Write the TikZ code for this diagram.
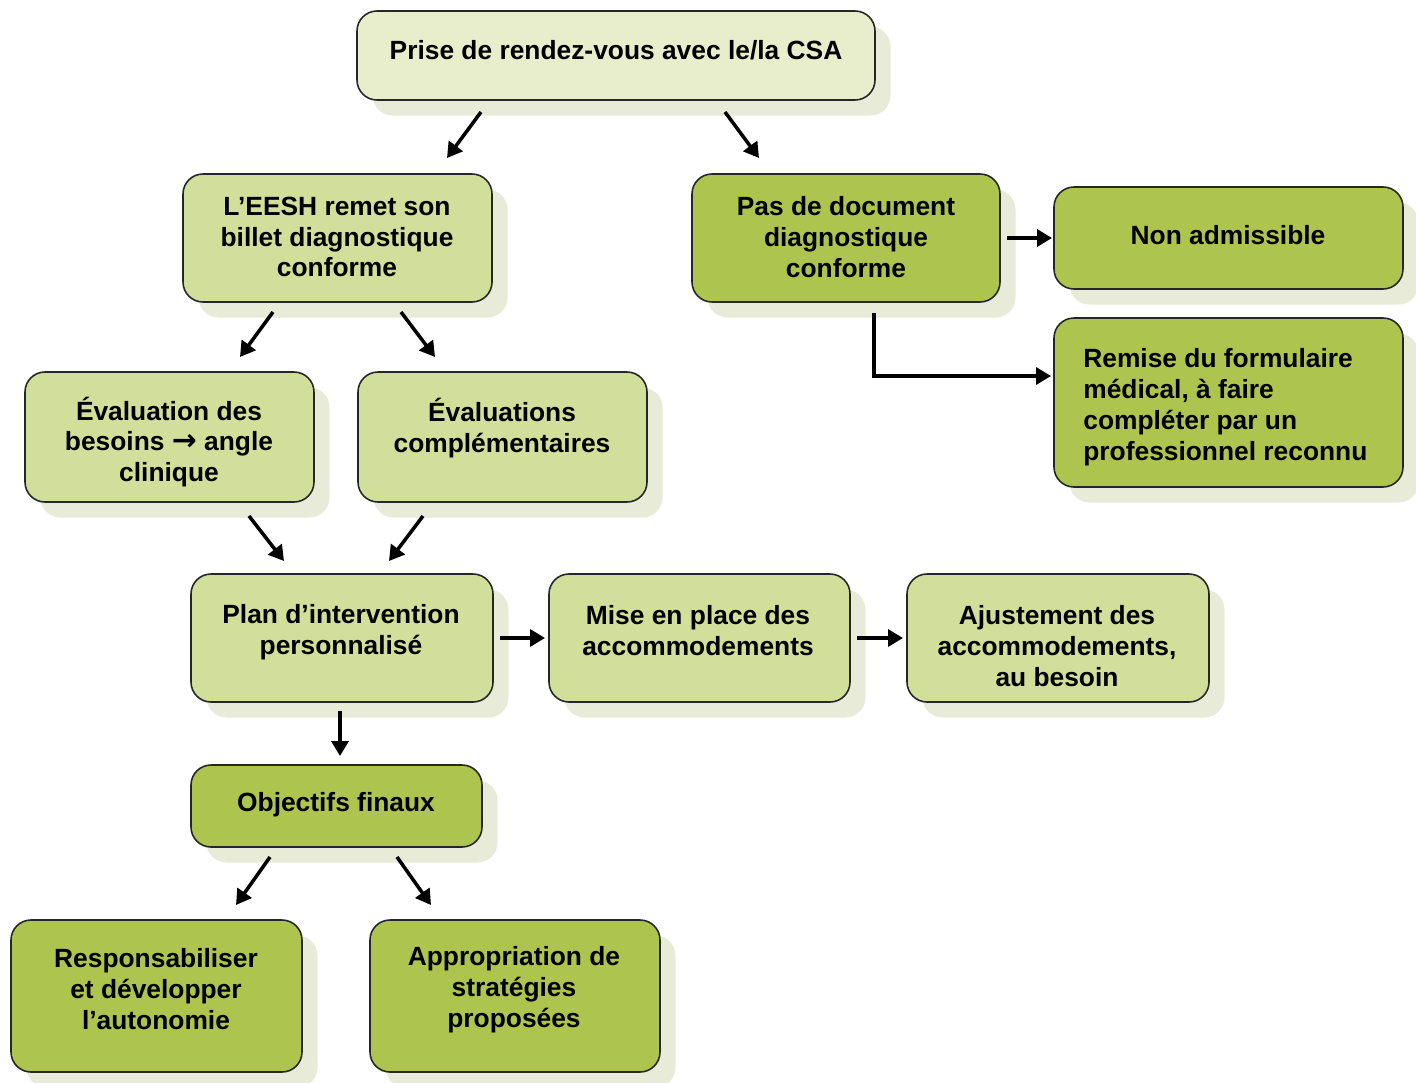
\documentclass[tikz,border=0pt]{standalone}
\usepackage{fontspec}
\setmainfont{Liberation Sans}
\newfontfamily\dejavu{DejaVu Sans}
\usetikzlibrary{arrows.meta,shadows}
\definecolor{paleG}{HTML}{E8EECB}
\definecolor{lightG}{HTML}{D2DF9A}
\definecolor{darkG}{HTML}{ADC54E}
\definecolor{shadowG}{HTML}{E7EBD7}
\def\px{0.02cm}
\tikzset{
  box/.style={draw=black!85, line width=0.9pt, rounded corners=0.4cm,
    drop shadow={shadow xshift=0.31cm, shadow yshift=-0.31cm, fill=shadowG, opacity=1}},
  pale/.style={box, fill=paleG},
  light/.style={box, fill=lightG},
  dark/.style={box, fill=darkG},
  txt/.style={align=center, font=\bfseries\fontsize{15}{17.6}\selectfont, inner sep=0pt},
  arr/.style={line width=2pt, -{Triangle[length=0.3cm,width=0.34cm]}}
}
\begin{document}
\begin{tikzpicture}[x=0.02cm,y=-0.02cm]
\useasboundingbox (0,0) rectangle (1416,1082);
% boxes
\node[pale, minimum width=518*\px, minimum height=89*\px] (top) at (616,55.5) {};
\node[light, minimum width=309*\px, minimum height=128*\px] (eesh) at (337.5,238) {};
\node[dark, minimum width=308*\px, minimum height=128*\px] (pas) at (846,238) {};
\node[dark, minimum width=349*\px, minimum height=102*\px] (non) at (1228.5,238) {};
\node[dark, minimum width=349*\px, minimum height=169*\px] (remise) at (1228.5,402.5) {};
\node[light, minimum width=289*\px, minimum height=130*\px] (besoins) at (169.5,437) {};
\node[light, minimum width=289*\px, minimum height=130*\px] (compl) at (502.5,437) {};
\node[light, minimum width=302*\px, minimum height=128*\px] (plan) at (342,638) {};
\node[light, minimum width=301*\px, minimum height=128*\px] (mise) at (699.5,638) {};
\node[light, minimum width=302*\px, minimum height=128*\px] (ajust) at (1058,638) {};
\node[dark, minimum width=291*\px, minimum height=82*\px] (obj) at (336.5,806) {};
\node[dark, minimum width=291*\px, minimum height=152*\px] (resp) at (156.5,996) {};
\node[dark, minimum width=290*\px, minimum height=152*\px] (appro) at (515,996) {};
% texts
\node[txt] (top-t) at (616,50) {Prise de rendez-vous avec le/la CSA};
\node[txt] (eesh-t) at (337,237) {L’EESH remet son\\billet diagnostique\\conforme};
\node[txt] (pas-t) at (846,237) {Pas de document\\diagnostique\\conforme};
\node[txt] (non-t) at (1228,235) {Non admissible};
\node[txt, align=left, anchor=west] (remise-t) at (1083,407) {Remise du formulaire\\médical, à faire\\compléter par un\\professionnel reconnu};
\node[txt] (besoins-t) at (169,442) {Évaluation des\\besoins {\dejavu\fontsize{17}{17.6}\selectfont →} angle\\clinique};
\node[txt] (compl-t) at (502,428) {Évaluations\\complémentaires};
\node[txt] (plan-t) at (341,632) {Plan d’intervention\\personnalisé};
\node[txt] (mise-t) at (698,631) {Mise en place des\\accommodements};
\node[txt] (ajust-t) at (1057,646) {Ajustement des\\accommodements,\\au besoin};
\node[txt] (obj-t) at (336,805) {Objectifs finaux};
\node[txt] (resp-t) at (156,989) {Responsabiliser\\et développer\\l’autonomie};
\node[txt] (appro-t) at (514,990) {Appropriation de\\stratégies\\proposées};
% connector ends
\coordinate (a1s) at (481,112); \coordinate (a1e) at (447,158);
\coordinate (a2s) at (725,112); \coordinate (a2e) at (759,158);
\coordinate (a3s) at (273,312); \coordinate (a3e) at (240,357);
\coordinate (a4s) at (401,312); \coordinate (a4e) at (435,357);
\coordinate (a5s) at (249,516); \coordinate (a5e) at (284,561);
\coordinate (a6s) at (423,516); \coordinate (a6e) at (389,561);
\coordinate (a7s) at (500,638); \coordinate (a7e) at (545,638);
\coordinate (a8s) at (857,638); \coordinate (a8e) at (903,638);
\coordinate (a9s) at (340,711); \coordinate (a9e) at (340,756);
\coordinate (a10s) at (270,857); \coordinate (a10e) at (236,905);
\coordinate (a11s) at (397,857); \coordinate (a11e) at (431,905);
\coordinate (a12s) at (1007,238); \coordinate (a12e) at (1052,238);
\coordinate (a13s) at (874,313); \coordinate (a13m) at (874,376); \coordinate (a13e) at (1051,376);
\draw[arr] (a1s) -- (a1e);
\draw[arr] (a2s) -- (a2e);
\draw[arr] (a3s) -- (a3e);
\draw[arr] (a4s) -- (a4e);
\draw[arr] (a5s) -- (a5e);
\draw[arr] (a6s) -- (a6e);
\draw[arr] (a7s) -- (a7e);
\draw[arr] (a8s) -- (a8e);
\draw[arr] (a9s) -- (a9e);
\draw[arr] (a10s) -- (a10e);
\draw[arr] (a11s) -- (a11e);
\draw[arr] (a12s) -- (a12e);
\draw[arr] (a13s) -- (a13m) -- (a13e);
\end{tikzpicture}
\end{document}
